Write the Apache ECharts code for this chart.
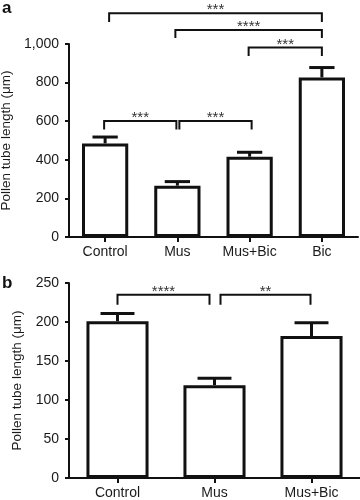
<!DOCTYPE html>
<html><head><meta charset="utf-8">
<script src="https://cdn.jsdelivr.net/npm/echarts@6/dist/echarts.min.js"></script>
<style>html,body{margin:0;padding:0;background:#fff}#c{width:360px;height:500px}</style>
</head><body><div id="c"></div>
<script>
// ---- data ----
const categoriesA = ['Control', 'Mus', 'Mus+Bic', 'Bic'];
const meansA = [485, 266, 416, 827];
const errorsA = [33, 21, 23, 51];
const categoriesB = ['Control', 'Mus', 'Mus+Bic'];
const meansB = [201, 119, 182];
const errorsB = [10, 9, 17];
const yTicksA = [0, 200, 400, 600, 800, 1000];
const yTicksB = [0, 50, 100, 150, 200, 250];
const comparisonsA = [[0, 1, '***'], [1, 2, '***'], [0, 3, '***'], [1, 3, '****'], [2, 3, '***']];
const comparisonsB = [[0, 1, '****'], [1, 2, '**']];

// ---- annotation layout (bracket heights in axis units, end offsets in px) ----
const bracketLayoutA = [
  { level: 601, drop: 557, dx0: -1, dx1: -1 },
  { level: 601, drop: 557, dx0: 2, dx1: 2 },
  { level: 1159, drop: 1114, dx0: 4, dx1: 0 },
  { level: 1073, drop: 1031, dx0: -2, dx1: 0 },
  { level: 982, drop: 938, dx0: -1, dx1: 0 }
];
const bracketLayoutB = [
  { level: 235, drop: 222, dx0: 0, dx1: -5 },
  { level: 235, drop: 222, dx0: 6, dx1: -1 }
];

const FONT = "'Liberation Sans', Arial, sans-serif";
const chart = echarts.init(document.getElementById('c'), null, { renderer: 'canvas' });

function fmtThousands(v) { return String(v).replace(/\B(?=(\d{3})+(?!\d))/g, ','); }

function errorSeries(idx, means, errs) {
  return {
    type: 'custom', xAxisIndex: idx, yAxisIndex: idx, z: 5, clip: false,
    data: means.map((m, i) => [i, m, errs[i]]),
    renderItem: function (params, api) {
      const i = api.value(0), m = api.value(1), e = api.value(2);
      const base = api.coord([i, m]);
      const top = api.coord([i, m + e]);
      const band = api.size([1, 0])[0];
      const hw = band * 0.175;
      const st = { stroke: '#111', lineWidth: 3 };
      return {
        type: 'group', children: [
          { type: 'line', shape: { x1: base[0], y1: base[1], x2: top[0], y2: top[1] }, style: st },
          { type: 'line', shape: { x1: top[0] - hw, y1: top[1], x2: top[0] + hw, y2: top[1] }, style: st }
        ]
      };
    }
  };
}

function bracketSeries(idx, comps, layout) {
  return {
    type: 'custom', xAxisIndex: idx, yAxisIndex: idx, z: 6, clip: false, silent: true,
    data: comps.map(c => [c[0], 0]),
    renderItem: function (params, api) {
      const k = params.dataIndex;
      const c = comps[k], L = layout[k];
      const a = api.coord([c[0], L.level]);
      const b = api.coord([c[1], L.level]);
      const d = api.coord([c[0], L.drop]);
      const x0 = a[0] + L.dx0, x1 = b[0] + L.dx1, yl = a[1], yd = d[1];
      return {
        type: 'group', children: [
          { type: 'polyline', shape: { points: [[x0, yd], [x0, yl], [x1, yl], [x1, yd]] },
            style: { stroke: '#111', lineWidth: 2, fill: null } },
          { type: 'text', x: (x0 + x1) / 2, y: yl - 3,
            style: { text: c[2], font: '15px ' + FONT, fill: '#333', align: 'center', verticalAlign: 'middle' } }
        ]
      };
    }
  };
}

const axisLineStyle = { show: true, lineStyle: { color: '#111', width: 2 } };

function xAxis(idx, cats) {
  return {
    type: 'category', gridIndex: idx, data: cats,
    axisLine: axisLineStyle,
    axisTick: { show: true, alignWithLabel: true, length: 5, lineStyle: { color: '#111', width: 2 } },
    axisLabel: { color: '#1a1a1a', fontSize: 14, fontFamily: FONT, margin: 8 },
    splitLine: { show: false }
  };
}
function yAxis(idx, ticks, gap, fmt) {
  return {
    type: 'value', gridIndex: idx, min: ticks[0], max: ticks[ticks.length - 1],
    interval: ticks[1] - ticks[0],
    name: 'Pollen tube length (\u03bcm)', nameLocation: 'middle', nameRotate: 90, nameGap: gap,
    nameTextStyle: { color: '#1a1a1a', fontSize: 13.5, fontFamily: FONT },
    axisLine: axisLineStyle,
    axisTick: { show: true, length: 4, lineStyle: { color: '#111', width: 2 } },
    axisLabel: { color: '#1a1a1a', fontSize: 14, fontFamily: FONT, margin: 10, formatter: fmt },
    splitLine: { show: false }
  };
}

function barSeries(idx, means) {
  return {
    type: 'bar', xAxisIndex: idx, yAxisIndex: idx, data: means, barWidth: '64%', z: 3,
    itemStyle: { color: '#fff', borderColor: '#111', borderWidth: 3 },
    emphasis: { disabled: true }, animation: false
  };
}

chart.setOption({
  animation: false,
  backgroundColor: '#fff',
  textStyle: { fontFamily: FONT },
  grid: [
    { left: 69, top: 44, width: 289, height: 193, containLabel: false, outerBoundsMode: 'none' },
    { left: 69, top: 283, width: 291, height: 195, containLabel: false, outerBoundsMode: 'none' }
  ],
  xAxis: [xAxis(0, categoriesA), xAxis(1, categoriesB)],
  yAxis: [yAxis(0, yTicksA, 53, v => fmtThousands(v)), yAxis(1, yTicksB, 45, v => String(v))],
  series: [
    barSeries(0, meansA), errorSeries(0, meansA, errorsA), bracketSeries(0, comparisonsA, bracketLayoutA),
    barSeries(1, meansB), errorSeries(1, meansB, errorsB), bracketSeries(1, comparisonsB, bracketLayoutB)
  ],
  graphic: [
    { type: 'text', left: 2, top: 0, style: { text: 'a', font: 'bold 17px ' + FONT, fill: '#111' } },
    { type: 'text', left: 2, top: 275, style: { text: 'b', font: 'bold 17px ' + FONT, fill: '#111' } }
  ]
});
</script></body></html>
